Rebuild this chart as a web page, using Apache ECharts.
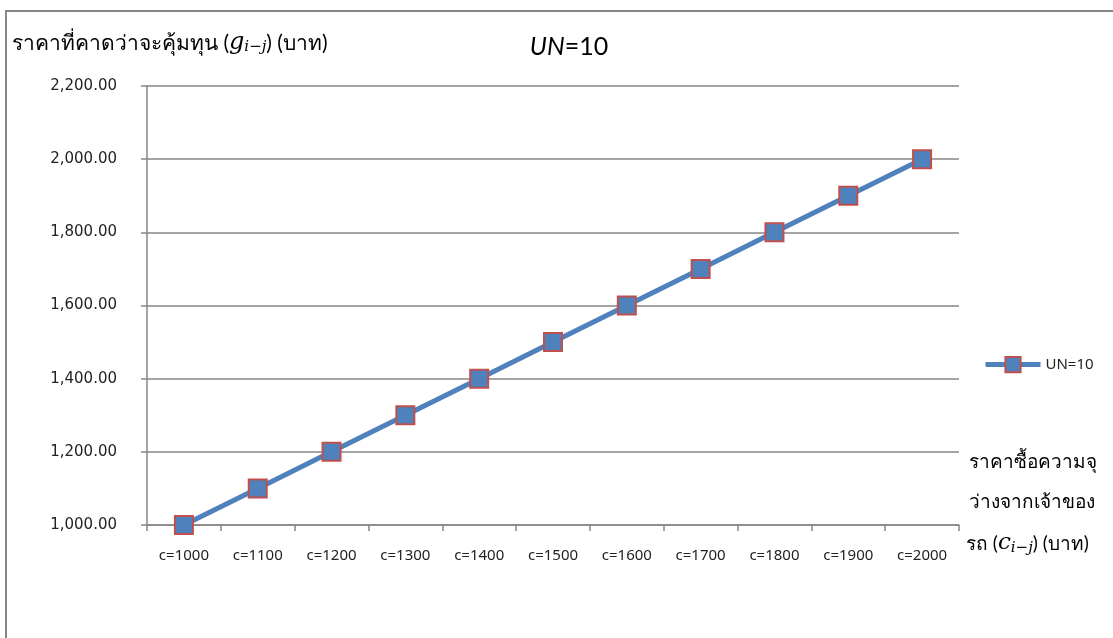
<!DOCTYPE html>
<html>
<head>
<meta charset="utf-8">
<script src="https://cdn.jsdelivr.net/npm/echarts@6/dist/echarts.min.js"></script>
<style>
  html, body { margin: 0; padding: 0; background: #fff; }
  #chart { width: 1113px; height: 638px; }
</style>
</head>
<body>
<div id="chart"></div>
<script>
var categories = ['c=1000', 'c=1100', 'c=1200', 'c=1300', 'c=1400', 'c=1500',
  'c=1600', 'c=1700', 'c=1800', 'c=1900', 'c=2000']
var seriesName = 'UN=10'
var values = [1000, 1100, 1200, 1300, 1400, 1500, 1600, 1700, 1800, 1900, 2000]
var yMin = 1000
var yMax = 2200
var yStep = 200

var FONT = 'Lato, "Noto Sans", "DejaVu Sans", sans-serif'
var LABEL = '"Noto Sans", "DejaVu Sans", sans-serif'
var NUM = '"DejaVu Sans", sans-serif'
var MATH = '"DejaVu Serif", serif'
var axisGray = '#868686'
var ink = '#222'

var chart = echarts.init(document.getElementById('chart'))
chart.setOption({
  animation: false,
  backgroundColor: '#fff',
  textStyle: { fontFamily: FONT },
  title: {
    text: '{i|UN}{n|=10}',
    left: 564,
    top: 29,
    textAlign: 'center',
    textStyle: {
      fontWeight: 'normal',
      rich: {
        i: { fontSize: 25, fontStyle: 'italic', fontWeight: 'normal', color: '#000', fontFamily: FONT },
        n: { fontSize: 25, fontWeight: 'normal', color: '#000', fontFamily: FONT }
      }
    }
  },
  legend: {
    data: [seriesName],
    left: 978,
    top: 351,
    itemWidth: 55,
    itemHeight: 19,
    itemGap: 4,
    lineStyle: { width: 5 },
    textStyle: { fontSize: 15, color: ink, fontFamily: LABEL }
  },
  grid: {
    left: 147,
    right: 154,
    top: 86,
    bottom: 113
  },
  xAxis: {
    type: 'category',
    data: categories,
    boundaryGap: true,
    axisLine: { lineStyle: { color: axisGray, width: 1.5 } },
    axisTick: { show: true, length: 6, lineStyle: { color: axisGray, width: 1.5 } },
    axisLabel: { color: ink, fontSize: 15, margin: 23, fontFamily: LABEL }
  },
  yAxis: {
    type: 'value',
    min: yMin,
    max: yMax,
    interval: yStep,
    axisLine: { show: true, lineStyle: { color: axisGray, width: 1.5 } },
    axisTick: { show: true, length: 6, lineStyle: { color: axisGray, width: 1.5 } },
    splitLine: { lineStyle: { color: axisGray, width: 1.5 } },
    axisLabel: {
      color: ink,
      fontSize: 15,
      margin: 30,
      fontFamily: NUM,
      formatter: function (v) {
        return v.toLocaleString('en-US', { minimumFractionDigits: 2, maximumFractionDigits: 2 })
      }
    }
  },
  graphic: [
    {
      type: 'rect',
      shape: { x: 6, y: 11, width: 1400, height: 800 },
      style: { fill: 'none', stroke: axisGray, lineWidth: 2 },
      silent: true
    },
    {
      type: 'text',
      left: 12,
      top: 31,
      style: {
        text: 'ราคาที่คาดว่าจะคุ้มทุน ({g|g}{s|i−j}) (บาท)',
        fontSize: 21,
        fill: '#000',
        fontFamily: FONT,
        rich: {
          g: { fontSize: 24, fontStyle: 'italic', fontFamily: MATH, fill: '#000' },
          s: { fontSize: 15, fontStyle: 'italic', fontFamily: MATH, fill: '#000', padding: [9, 0, 0, 0] }
        }
      }
    },
    {
      type: 'text',
      left: 969,
      top: 452,
      style: {
        text: 'ราคาซื้อความจุ',
        fontSize: 19,
        fill: '#000',
        fontFamily: FONT
      }
    },
    {
      type: 'text',
      left: 969,
      top: 492,
      style: {
        text: 'ว่างจากเจ้าของ',
        fontSize: 19,
        fill: '#000',
        fontFamily: FONT
      }
    },
    {
      type: 'text',
      left: 966,
      top: 532,
      style: {
        text: 'รถ ({c|c}{s|i−j}) (บาท)',
        fontSize: 19,
        fill: '#000',
        fontFamily: FONT,
        rich: {
          c: { fontSize: 23, fontStyle: 'italic', fontFamily: MATH, fill: '#000' },
          s: { fontSize: 15, fontStyle: 'italic', fontFamily: MATH, fill: '#000', padding: [9, 0, 0, 0] }
        }
      }
    }
  ],
  series: [
    {
      name: seriesName,
      type: 'line',
      data: values,
      symbol: 'rect',
      symbolSize: 18,
      lineStyle: { color: '#4F81BD', width: 5 },
      itemStyle: { color: '#4F81BD', borderColor: '#C0504D', borderWidth: 2 }
    }
  ]
})
</script>
</body>
</html>
